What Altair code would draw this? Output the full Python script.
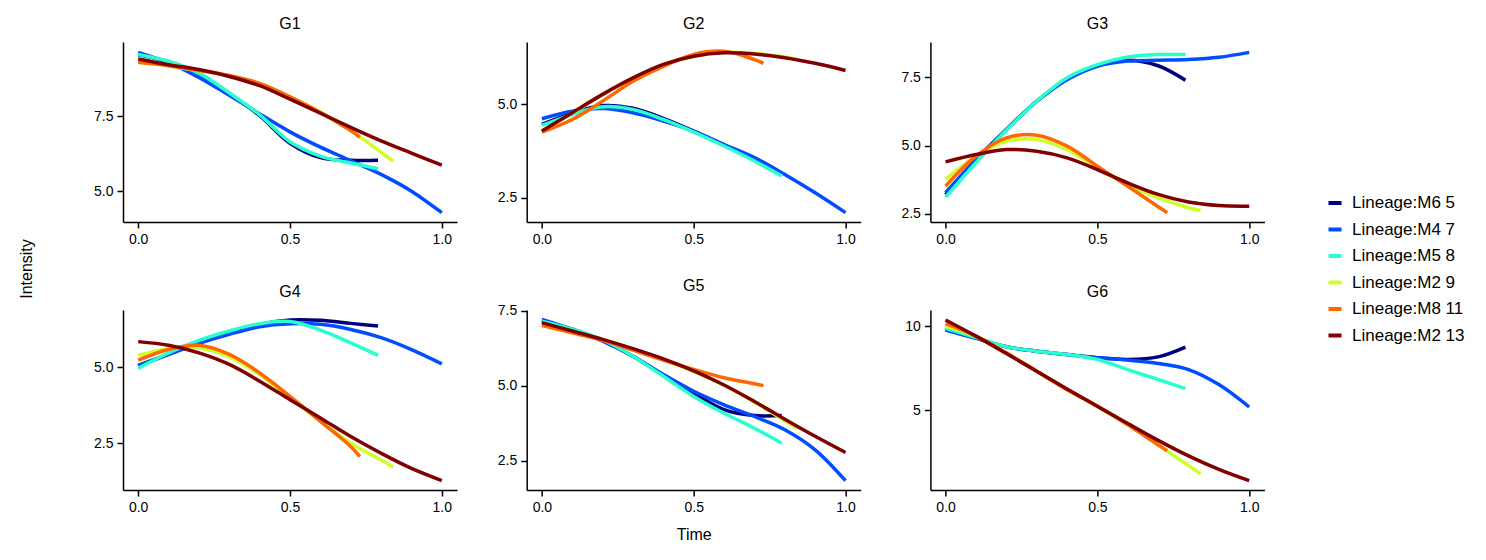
import altair as alt
import pandas as pd

# ---------------- data ----------------
lineages = ["Lineage:M6 5", "Lineage:M4 7", "Lineage:M5 8",
            "Lineage:M2 9", "Lineage:M8 11", "Lineage:M2 13"]
colors = ["#000080", "#004cff", "#29ffce", "#ceff29", "#ff6800", "#800000"]

t_m6_5 = [0.0, 0.1, 0.2, 0.3, 0.4, 0.5, 0.6, 0.7, 0.79]
t_m4_7 = [0.0, 0.1, 0.2, 0.3, 0.4, 0.5, 0.6, 0.7, 0.8, 0.9, 1.0]
t_m5_8 = [0.0, 0.1, 0.2, 0.3, 0.4, 0.5, 0.6, 0.7, 0.79]
t_m2_9 = [0.0, 0.1, 0.2, 0.3, 0.4, 0.5, 0.6, 0.7, 0.8, 0.84]
t_m8_11 = [0.0, 0.1, 0.2, 0.3, 0.4, 0.5, 0.6, 0.7, 0.73]
t_m2_13 = [0.0, 0.1, 0.2, 0.3, 0.4, 0.5, 0.6, 0.7, 0.8, 0.9, 1.0]
times = [t_m6_5, t_m4_7, t_m5_8, t_m2_9, t_m8_11, t_m2_13]

panels = ["G1", "G2", "G3", "G4", "G5", "G6"]

g1 = [
    [9.55, 9.32, 8.93, 8.26, 7.52, 6.60, 6.12, 6.03, 6.03],
    [9.63, 9.28, 8.80, 8.20, 7.58, 6.98, 6.47, 6.02, 5.56, 5.00, 4.28],
    [9.56, 9.33, 8.94, 8.28, 7.55, 6.65, 6.17, 5.94, 5.75],
    [9.30, 9.18, 9.02, 8.85, 8.59, 8.15, 7.63, 7.02, 6.30, 6.00],
    [9.30, 9.19, 9.03, 8.86, 8.60, 8.15, 7.63, 7.02, 6.80],
    [9.41, 9.22, 9.06, 8.83, 8.52, 8.07, 7.60, 7.13, 6.68, 6.27, 5.87],
]
g2 = [
    [4.46, 4.75, 4.96, 4.89, 4.62, 4.28, 3.91, 3.51, 3.12],
    [4.61, 4.81, 4.88, 4.77, 4.55, 4.28, 3.92, 3.57, 3.12, 2.63, 2.10],
    [4.43, 4.72, 4.93, 4.86, 4.59, 4.25, 3.88, 3.48, 3.08],
    [4.27, 4.76, 5.25, 5.69, 6.05, 6.28, 6.38, 6.36, 6.26, 6.20],
    [4.25, 4.59, 5.08, 5.61, 6.01, 6.33, 6.41, 6.19, 6.09],
    [4.28, 4.77, 5.26, 5.70, 6.06, 6.28, 6.37, 6.34, 6.24, 6.09, 5.90],
]
g3 = [
    [3.20, 4.45, 5.58, 6.62, 7.43, 7.93, 8.12, 7.92, 7.39],
    [3.27, 4.49, 5.59, 6.62, 7.41, 7.90, 8.09, 8.12, 8.15, 8.23, 8.41],
    [3.11, 4.37, 5.56, 6.62, 7.48, 7.96, 8.24, 8.33, 8.33],
    [3.76, 4.61, 5.16, 5.22, 4.85, 4.18, 3.57, 3.09, 2.72, 2.62],
    [3.51, 4.61, 5.28, 5.38, 4.98, 4.24, 3.51, 2.76, 2.54],
    [4.40, 4.67, 4.85, 4.79, 4.55, 4.12, 3.63, 3.21, 2.93, 2.80, 2.78],
]
g4 = [
    [5.05, 5.42, 5.80, 6.12, 6.40, 6.55, 6.54, 6.44, 6.35],
    [5.06, 5.42, 5.78, 6.08, 6.33, 6.43, 6.41, 6.24, 5.97, 5.58, 5.11],
    [4.96, 5.47, 5.88, 6.19, 6.43, 6.50, 6.22, 5.80, 5.39],
    [5.39, 5.61, 5.64, 5.34, 4.76, 3.99, 3.22, 2.50, 1.95, 1.71],
    [5.23, 5.58, 5.72, 5.42, 4.81, 4.04, 3.22, 2.39, 2.06],
    [5.84, 5.72, 5.47, 5.09, 4.54, 3.93, 3.33, 2.72, 2.17, 1.67, 1.27],
]
g5 = [
    [7.15, 6.88, 6.50, 5.98, 5.35, 4.75, 4.20, 4.00, 4.00],
    [7.21, 6.88, 6.48, 5.98, 5.37, 4.81, 4.36, 3.97, 3.53, 2.86, 1.83],
    [7.15, 6.88, 6.52, 5.98, 5.31, 4.64, 4.08, 3.58, 3.08],
    [7.00, 6.78, 6.52, 6.21, 5.87, 5.47, 5.01, 4.45, 3.83, 3.58],
    [7.01, 6.76, 6.51, 6.18, 5.85, 5.54, 5.26, 5.06, 5.00],
    [7.10, 6.82, 6.54, 6.23, 5.89, 5.49, 5.02, 4.47, 3.88, 3.31, 2.77],
]
g6 = [
    [9.80, 9.29, 8.77, 8.51, 8.31, 8.12, 8.02, 8.17, 8.75],
    [9.76, 9.27, 8.77, 8.51, 8.31, 8.12, 7.98, 7.78, 7.42, 6.53, 5.20],
    [9.86, 9.31, 8.77, 8.51, 8.31, 8.02, 7.42, 6.83, 6.29],
    [10.00, 9.38, 8.40, 7.32, 6.24, 5.24, 4.17, 2.95, 1.73, 1.23],
    [10.14, 9.40, 8.41, 7.32, 6.23, 5.24, 4.15, 2.96, 2.60],
    [10.36, 9.40, 8.37, 7.32, 6.27, 5.24, 4.22, 3.22, 2.30, 1.50, 0.83],
]
values = [g1, g2, g3, g4, g5, g6]

# axis settings per panel
y_domains = [[3.97, 9.98], [1.85, 6.66], [2.20, 8.79], [0.96, 6.88], [1.52, 7.52], [0.28, 10.95]]
y_ticks = [[5.0, 7.5], [2.5, 5.0], [2.5, 5.0, 7.5], [2.5, 5.0], [2.5, 5.0, 7.5], [5, 10]]
y_formats = [".1f", ".1f", ".1f", ".1f", ".1f", "d"]
x_ticks = [0.0, 0.5, 1.0]

FONT = "Liberation Sans"
W, H = 334, 180

def panel_df(i):
    rows = []
    for k, name in enumerate(lineages):
        for t, v in zip(times[k], values[i][k]):
            rows.append({"lineage": name, "t": t, "v": v, "k": k})
    return pd.DataFrame(rows)

charts = []
for i, p in enumerate(panels):
    xaxis_kw = dict(values=x_ticks, format=".1f")
    xaxis_kw["title"] = "Time" if p == "G5" else None
    leg = alt.Legend(
        title=None, orient="none", legendX=1203, legendY=152,
        symbolType="stroke", symbolStrokeWidth=4, symbolSize=170,
        labelFontSize=17, labelFont=FONT, labelColor="black",
        rowPadding=9.5, labelOffset=8,
    )
    line = alt.Chart(panel_df(i)).mark_line(
        strokeWidth=3.5, interpolate="catmull-rom", clip=True
    ).encode(
        x=alt.X("t:Q", scale=alt.Scale(domain=[-0.05, 1.05], nice=False, zero=False),
                axis=alt.Axis(**xaxis_kw)),
        y=alt.Y("v:Q", scale=alt.Scale(domain=y_domains[i], nice=False, zero=False),
                axis=alt.Axis(values=y_ticks[i], format=y_formats[i], title=None)),
        color=alt.Color("lineage:N", scale=alt.Scale(domain=lineages, range=colors),
                        legend=leg),
        detail="k:O",
    )
    layer = line
    if p == "G1":
        lbl = alt.Chart(pd.DataFrame({"s": ["Intensity"]})).mark_text(
            angle=270, fontSize=16, font=FONT, color="black"
        ).encode(text="s:N", x=alt.value(-96), y=alt.value(227))
        layer = alt.layer(line, lbl)
    charts.append(layer.properties(
        width=W, height=H,
        title=alt.TitleParams(p, fontSize=16, font=FONT, fontWeight="normal",
                              color="black", offset=10),
    ))

chart = alt.concat(*charts, columns=3, spacing={"row": 88, "column": 69.7}, bounds="flush").configure_axis(
    grid=False, domainColor="black", domainWidth=1.5, tickColor="black", tickWidth=1.5,
    tickSize=6, labelFontSize=14, labelFont=FONT, labelColor="black", labelPadding=4,
    titleFont=FONT, titleFontSize=16, titleFontWeight="normal", titleColor="black",
    titlePadding=12,
).configure_view(strokeWidth=0).properties(padding={"left": 11, "top": 8, "right": 5, "bottom": 5})

chart.save("out.html", embed_options={"renderer": "svg", "actions": False})
